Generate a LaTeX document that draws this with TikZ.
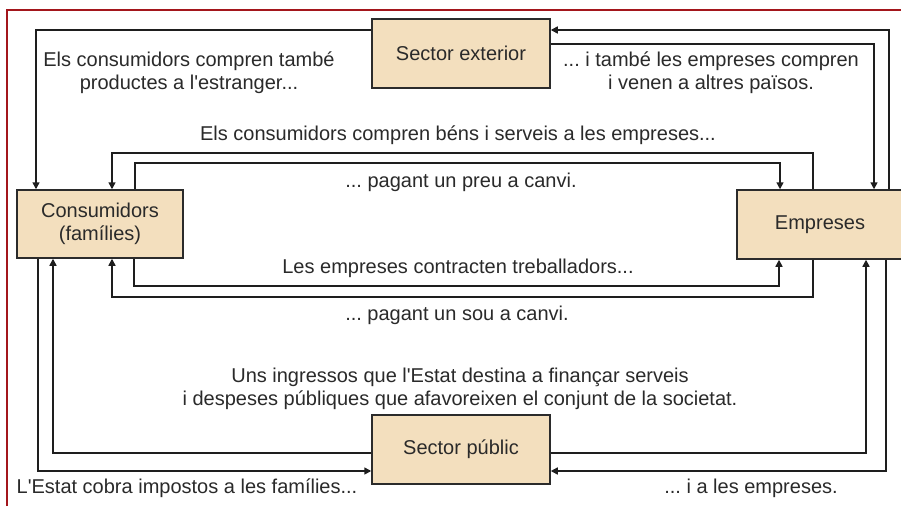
\documentclass[tikz,border=0pt]{standalone}
\usepackage{fontspec}
\setmainfont{Liberation Sans}[Ligatures=TeXOff]
\frenchspacing
\usetikzlibrary{arrows.meta}
\definecolor{boxfill}{HTML}{F3DFBE}
\definecolor{boxline}{HTML}{2B2B2B}
\definecolor{lineclr}{HTML}{1E1E1E}
\definecolor{txt}{HTML}{2A2A2A}
\definecolor{frame}{HTML}{A3161C}
\tikzset{
  sector/.style={draw=boxline, fill=boxfill, line width=1.5pt, inner sep=0pt,
    align=center, text=txt, font=\fontsize{20}{23}\selectfont},
  lbl/.style={align=center, text=txt, inner sep=0pt, font=\fontsize{20}{23}\selectfont},
  flow/.style={draw=lineclr, line width=1.5pt},
  arr/.style={flow, -{Triangle[length=7pt,width=7pt]}},
}
\begin{document}
\begin{tikzpicture}[x=1pt,y=-1pt]
\useasboundingbox (0,0) rectangle (901,506);
\fill[white] (0,0) rectangle (901,506);
% frame
\draw[frame, line width=2pt] (7,506) -- (7,10) -- (905,10);
% boxes
\node[sector, minimum width=178pt, minimum height=69pt] (ext) at (461,53.5) {Sector exterior};
\node[sector, minimum width=166pt, minimum height=68pt] (cons) at (100,224) {Consumidors\\(famílies)};
\node[sector, minimum width=166pt, minimum height=69pt] (emp) at (820,224.5) {};
\node[lbl] (empt) at (820,224.5) {Empreses};
\node[sector, minimum width=178pt, minimum height=69pt] (pub) at (461,449.5) {Sector públic};
% exterior flows
\draw[arr] (ext.west |- 0,30) -| (36,0 |- cons.north);
\draw[arr] (889,0 |- emp.north) |- (ext.east |- 0,30);
\draw[arr] (ext.east |- 0,44) -| (874,0 |- emp.north);
% goods and money
\draw[arr] (813,0 |- emp.north) -- (813,153) -| (112,0 |- cons.north);
\draw[arr] (135,0 |- cons.north) -- (135,163) -| (780,0 |- emp.north);
% labour and wages
\draw[arr] (134,0 |- cons.south) -- (134,286) -| (779,0 |- emp.south);
\draw[arr] (813,0 |- emp.south) -- (813,297) -| (112,0 |- cons.south);
% public sector
\draw[arr] (pub.west |- 0,453) -| (53,0 |- cons.south);
\draw[arr] (38,0 |- cons.south) |- (pub.west |- 0,471);
\draw[arr] (pub.east |- 0,453) -| (866,0 |- emp.south);
\draw[arr] (886,0 |- emp.south) |- (pub.east |- 0,471);
% labels
\node[lbl] (t1) at (189,73) {Els consumidors compren també\\productes a l'estranger...};
\node[lbl] (t2) at (711,73) {... i també les empreses compren\\i venen a altres països.};
\node[lbl] (t3) at (458,135) {Els consumidors compren béns i serveis a les empreses...};
\node[lbl] (t4) at (461,182) {... pagant un preu a canvi.};
\node[lbl] (t5) at (458,268) {Les empreses contracten treballadors...};
\node[lbl] (t6) at (457,315) {... pagant un sou a canvi.};
\node[lbl] (t7) at (460,388.5) {Uns ingressos que l'Estat destina a finançar serveis\\i despeses públiques que afavoreixen el conjunt de la societat.};
\node[lbl] (t8) at (187,488) {L'Estat cobra impostos a les famílies...};
\node[lbl] (t9) at (751,488) {... i a les empreses.};
\end{tikzpicture}
\end{document}
